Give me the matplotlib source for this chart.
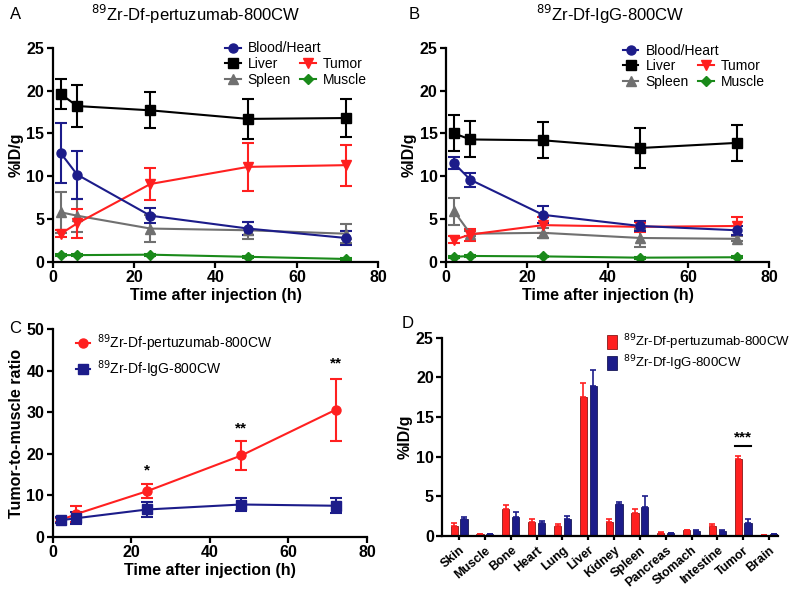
import numpy as np
import matplotlib
matplotlib.use("Agg")
import matplotlib.pyplot as plt
from matplotlib.lines import Line2D

plt.rcParams['font.family'] = ['Liberation Sans', 'DejaVu Sans']

# Biodistribution over time (%ID/g)
time_h = [2, 6, 24, 48, 72]
organs = ['Blood/Heart', 'Liver', 'Tumor', 'Spleen', 'Muscle']

pert_mean = {
    'Blood/Heart': [12.7, 10.2, 5.4, 3.9, 2.8],
    'Liver': [19.6, 18.2, 17.7, 16.7, 16.8],
    'Tumor': [3.3, 4.5, 9.1, 11.1, 11.3],
    'Spleen': [5.8, 5.4, 3.9, 3.7, 3.3],
    'Muscle': [0.8, 0.8, 0.85, 0.6, 0.35],
}
pert_err = {
    'Blood/Heart': [3.5, 2.8, 0.9, 0.8, 0.8],
    'Liver': [1.8, 2.5, 2.1, 2.3, 2.2],
    'Tumor': [0.4, 1.7, 1.9, 2.8, 2.4],
    'Spleen': [2.4, 1.9, 1.6, 1.0, 1.1],
    'Muscle': [0.1, 0.1, 0.1, 0.1, 0.1],
}
igg_mean = {
    'Blood/Heart': [11.5, 9.6, 5.5, 4.2, 3.7],
    'Liver': [15.0, 14.3, 14.2, 13.3, 13.9],
    'Tumor': [2.6, 3.2, 4.3, 4.1, 4.2],
    'Spleen': [5.9, 3.3, 3.4, 2.8, 2.7],
    'Muscle': [0.6, 0.7, 0.65, 0.5, 0.55],
}
igg_err = {
    'Blood/Heart': [0.7, 0.8, 1.0, 0.6, 0.5],
    'Liver': [2.1, 2.1, 2.1, 2.3, 2.1],
    'Tumor': [0.4, 0.7, 0.9, 0.6, 1.0],
    'Spleen': [1.6, 0.3, 0.6, 1.0, 0.3],
    'Muscle': [0.1, 0.1, 0.1, 0.1, 0.1],
}

# Tumor-to-muscle ratio
ratio_pert = [4.0, 5.5, 11.0, 19.6, 30.6]
ratio_pert_err = [0.5, 2.0, 1.7, 3.6, 7.4]
ratio_igg = [4.0, 4.5, 6.6, 7.8, 7.5]
ratio_igg_err = [0.7, 1.5, 1.8, 1.5, 1.8]
sig_time = [24, 48, 72]
sig_y = [16.0, 26.0, 41.8]
sig_text = ['*', '**', '**']

# Ex vivo biodistribution
tissues = ['Skin', 'Muscle', 'Bone', 'Heart', 'Lung', 'Liver', 'Kidney',
           'Spleen', 'Pancreas', 'Stomach', 'Intestine', 'Tumor', 'Brain']
bio_pert = [1.3, 0.25, 3.4, 1.8, 1.3, 17.5, 1.8, 2.9, 0.4, 0.7, 1.3, 9.7, 0.1]
bio_pert_err = [0.3, 0.05, 0.5, 0.3, 0.25, 1.8, 0.3, 0.5, 0.05, 0.05, 0.2, 0.4, 0.03]
bio_igg = [2.2, 0.2, 2.4, 1.7, 2.2, 18.9, 4.0, 3.6, 0.35, 0.65, 0.65, 1.7, 0.2]
bio_igg_err = [0.2, 0.05, 0.6, 0.15, 0.3, 2.0, 0.3, 1.4, 0.05, 0.05, 0.08, 0.4, 0.05]

styles = {
    'Blood/Heart': dict(color='#1c1c8a', marker='o', ms=6.5),
    'Liver': dict(color='black', marker='s', ms=6.5),
    'Tumor': dict(color='#ff2020', marker='v', ms=6.5),
    'Spleen': dict(color='#707070', marker='^', ms=6.5),
    'Muscle': dict(color='#1a8a1a', marker='D', ms=5),
}
RED = '#ff2020'
NAVY = '#1c1c8a'
TICK_FS = 11.5
LAB_FS = 11.5
LEG_FS = 10


def style_axes(ax):
    for s in ['top', 'right']:
        ax.spines[s].set_visible(False)
    for s in ['left', 'bottom']:
        ax.spines[s].set_linewidth(1.6)
    ax.tick_params(width=1.6, length=4, labelsize=TICK_FS, pad=2)
    for lab in ax.get_xticklabels() + ax.get_yticklabels():
        lab.set_fontweight('bold')


def proxy(color, marker, ms):
    return Line2D([], [], color=color, marker=marker, ms=ms, lw=1.5)


fig = plt.figure(figsize=(7.98, 5.90), dpi=100)
axA = fig.add_axes([0.066, 0.556, 0.408, 0.363])
axB = fig.add_axes([0.559, 0.556, 0.405, 0.363])
axC = fig.add_axes([0.066, 0.090, 0.394, 0.352])
axD = fig.add_axes([0.554, 0.0915, 0.421, 0.336])

leg_kw = dict(frameon=False, fontsize=LEG_FS, handlelength=1.1, handletextpad=0.5,
              borderaxespad=0, borderpad=0)
for ax, means, errs, lx, ly in [(axA, pert_mean, pert_err, 0.53, 1.03),
                                (axB, igg_mean, igg_err, 0.548, 1.02)]:
    for org in ['Muscle', 'Spleen', 'Tumor', 'Blood/Heart', 'Liver']:
        st = styles[org]
        ax.errorbar(time_h, means[org], yerr=errs[org], color=st['color'],
                    marker=st['marker'], ms=st['ms'], lw=1.5, elinewidth=1.5,
                    capsize=4, capthick=1.5)
    hd = {o: proxy(**styles[o]) for o in organs}
    leg1 = ax.legend([hd['Blood/Heart']], ['Blood/Heart'], loc='upper left',
                     bbox_to_anchor=(lx, ly), **leg_kw)
    ax.add_artist(leg1)
    ax.legend([hd['Liver'], hd['Spleen'], hd['Tumor'], hd['Muscle']],
              ['Liver', 'Spleen', 'Tumor', 'Muscle'], ncol=2, loc='upper left',
              bbox_to_anchor=(lx, ly - 0.072), columnspacing=0.7,
              labelspacing=0.15, **leg_kw)
    ax.set_xlim(0, 80)
    ax.set_ylim(0, 25)
    ax.set_xticks([0, 20, 40, 60, 80])
    ax.set_yticks([0, 5, 10, 15, 20, 25])
    ax.set_xlabel('Time after injection (h)', fontsize=LAB_FS, fontweight='bold', labelpad=2)
    ax.set_ylabel('%ID/g', fontsize=LAB_FS, fontweight='bold', labelpad=2)
    style_axes(ax)

# Panel C
axC.errorbar(time_h, ratio_pert, yerr=ratio_pert_err, color=RED, marker='o', ms=6.5,
             lw=1.5, elinewidth=1.5, capsize=4, capthick=1.5)
axC.errorbar(time_h, ratio_igg, yerr=ratio_igg_err, color=NAVY, marker='s', ms=6.5,
             lw=1.5, elinewidth=1.5, capsize=4, capthick=1.5)
for t, y, s in zip(sig_time, sig_y, sig_text):
    axC.text(t, y, s, ha='center', va='center', fontsize=11, fontweight='bold')
axC.legend([proxy(RED, 'o', 6.5), proxy(NAVY, 's', 6.5)],
           [r'$^{89}$Zr-Df-pertuzumab-800CW', r'$^{89}$Zr-Df-IgG-800CW'],
           loc='upper left', bbox_to_anchor=(0.075, 0.985), frameon=False,
           fontsize=LEG_FS, handlelength=1.0, handletextpad=0.5, labelspacing=0.3,
           borderaxespad=0, borderpad=0)
axC.set_xlim(0, 80)
axC.set_ylim(0, 50)
axC.set_xticks([0, 20, 40, 60, 80])
axC.set_yticks([0, 10, 20, 30, 40, 50])
axC.set_xlabel('Time after injection (h)', fontsize=LAB_FS, fontweight='bold', labelpad=2)
axC.set_ylabel('Tumor-to-muscle ratio', fontsize=LAB_FS, fontweight='bold', labelpad=2)
style_axes(axC)

# Panel D
xpos = np.arange(len(tissues))
bw = 0.28
axD.bar(xpos - 0.19, bio_pert, bw, yerr=[np.zeros(len(tissues)), bio_pert_err],
        color=RED, edgecolor='#700000', lw=0.5, capsize=2.5,
        error_kw=dict(elinewidth=1.2, capthick=1.2, ecolor=RED),
        label=r'$^{89}$Zr-Df-pertuzumab-800CW')
axD.bar(xpos + 0.19, bio_igg, bw, yerr=[np.zeros(len(tissues)), bio_igg_err],
        color=NAVY, edgecolor='#000040', lw=0.5, capsize=2.5,
        error_kw=dict(elinewidth=1.2, capthick=1.2, ecolor=NAVY),
        label=r'$^{89}$Zr-Df-IgG-800CW')
ti = tissues.index('Tumor')
axD.plot([ti - 0.3, ti + 0.3], [11.3, 11.3], color='black', lw=1.5)
axD.text(ti, 12.4, '***', ha='center', va='center', fontsize=11, fontweight='bold')
axD.legend(loc='upper left', bbox_to_anchor=(0.49, 1.025), frameon=False,
           fontsize=9.5, handlelength=0.75, handleheight=1.3, handletextpad=0.45,
           labelspacing=0.1, borderaxespad=0, borderpad=0)
axD.set_xlim(-0.66, 12.35)
axD.set_ylim(0, 25)
axD.set_yticks([0, 5, 10, 15, 20, 25])
axD.set_xticks(xpos)
axD.set_xticklabels(tissues, rotation=40, ha='right', rotation_mode='anchor')
axD.set_ylabel('%ID/g', fontsize=LAB_FS, fontweight='bold', labelpad=2)
style_axes(axD)
axD.tick_params(axis='x', length=3, labelsize=9, pad=3)

# Titles and panel letters
fig.text(0.245, 0.975, r'$^{89}$Zr-Df-pertuzumab-800CW', ha='center', va='center', fontsize=12)
fig.text(0.765, 0.975, r'$^{89}$Zr-Df-IgG-800CW', ha='center', va='center', fontsize=12)
fig.text(0.012, 0.975, 'A', ha='left', va='center', fontsize=12)
fig.text(0.512, 0.975, 'B', ha='left', va='center', fontsize=12)
fig.text(0.012, 0.444, 'C', ha='left', va='center', fontsize=12)
fig.text(0.503, 0.452, 'D', ha='left', va='center', fontsize=12)

fig.savefig('out.png', dpi=100)
